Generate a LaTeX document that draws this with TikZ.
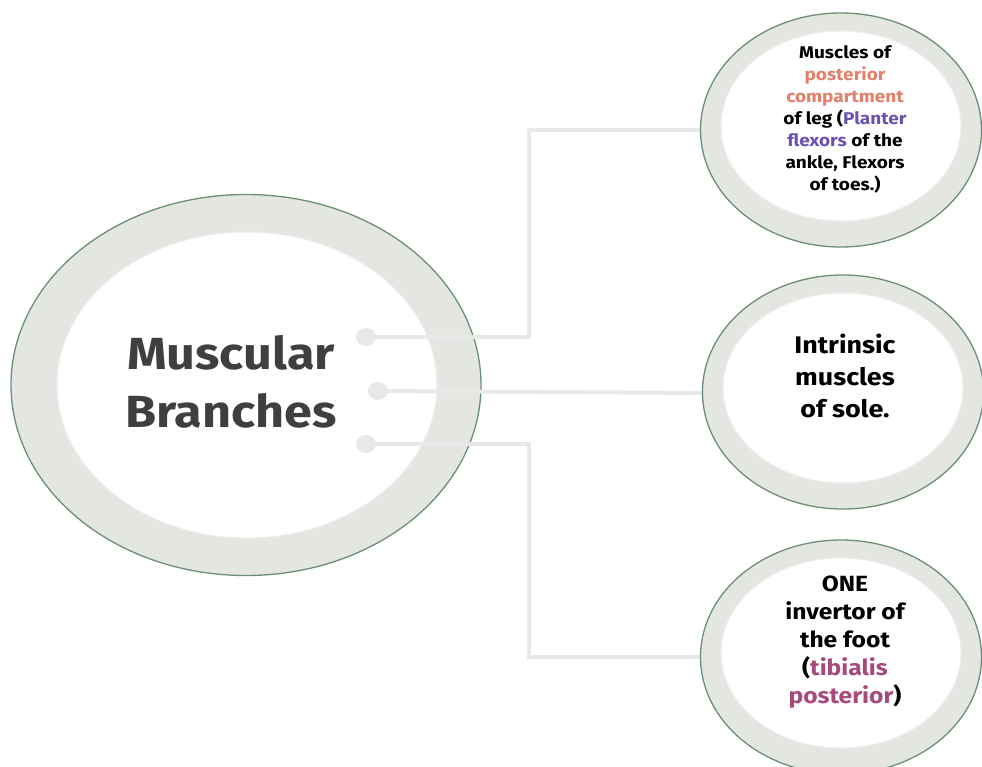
\documentclass[tikz,border=0pt]{standalone}
\usepackage{fontspec}
\setmainfont{Fira Sans}[FakeStretch=1.12]
\usetikzlibrary{shapes.geometric}
\definecolor{ringc}{HTML}{E4E7E1}
\definecolor{edgec}{HTML}{6B8F73}
\definecolor{innerc}{HTML}{EEEEEE}
\definecolor{connc}{HTML}{E8E8E8}
\definecolor{titlec}{HTML}{3F3F3F}
\definecolor{salmon}{HTML}{E47F6C}
\definecolor{violet}{HTML}{6A52B0}
\definecolor{plum}{HTML}{A8497C}
\tikzset{
  ring/.style={ellipse, draw=edgec, line width=1.3pt, fill=ringc, inner sep=0pt},
  hole/.style={ellipse, draw=innerc, line width=1pt, fill=white, inner sep=0pt},
  conn/.style={draw=connc, line width=4pt},
  dotc/.style={ellipse, fill=connc, inner sep=0pt, minimum width=20pt, minimum height=18pt},
  txt/.style={align=center, font=\bfseries, inner sep=0pt}
}
\begin{document}
\begin{tikzpicture}[x=1pt,y=-1pt]
\useasboundingbox (0,0) rectangle (982,766);
\clip (0,0) rectangle (982,766);
% central ellipse
\node[ring, minimum width=470pt, minimum height=381pt] (main) at (246,385) {};
\node[hole, minimum width=380pt, minimum height=306pt] (mainh) at (247,385) {};
\node[txt, text=titlec, font=\bfseries\fontsize{45}{58}\selectfont] (title) at (231,382) {Muscular\\Branches};
% dots
\node[dotc] (d1) at (366,337) {};
\node[dotc] (d2) at (378,391) {};
\node[dotc] (d3) at (366,444) {};
\coordinate (j1) at (529,337);
\coordinate (j3) at (529,444);
% right ellipses (positions)
\coordinate (c1) at (841,130);
\coordinate (c2) at (843,392);
\coordinate (c3) at (841,657);
% connectors
\draw[conn] (d1.center) -- (j1) |- (c1 -| 705,0);
\draw[conn] (d2.center) -- (705,393);
\draw[conn] (d3.center) -- (j3) |- (c3 -| 705,0);
% top ellipse
\node[ring, minimum width=281pt, minimum height=234pt] (e1) at (c1) {};
\node[hole, minimum width=240pt, minimum height=190pt] (e1h) at (841,126) {};
\node[txt, font=\bfseries\fontsize{17}{22}\selectfont] (t1) at (845,119)
  {Muscles of\\\textcolor{salmon}{posterior}\\\textcolor{salmon}{compartment}\\of leg (\textcolor{violet}{Planter}\\\textcolor{violet}{flexors} of the\\ankle, Flexors\\of toes.)};
% middle ellipse
\node[ring, minimum width=281pt, minimum height=234pt] (e2) at (c2) {};
\node[hole, minimum width=240pt, minimum height=190pt] (e2h) at (843,388) {};
\node[txt, font=\bfseries\fontsize{24}{32}\selectfont] (t2) at (845,376)
  {Intrinsic\\muscles\\of sole.};
% bottom ellipse
\node[ring, minimum width=281pt, minimum height=234pt] (e3) at (c3) {};
\node[hole, minimum width=240pt, minimum height=190pt] (e3h) at (841,653) {};
\node[txt, font=\bfseries\fontsize{22}{28}\selectfont] (t3) at (845,642)
  {ONE\\invertor of\\the foot\\(\textcolor{plum}{tibialis}\\\textcolor{plum}{posterior})};
\end{tikzpicture}
\end{document}
